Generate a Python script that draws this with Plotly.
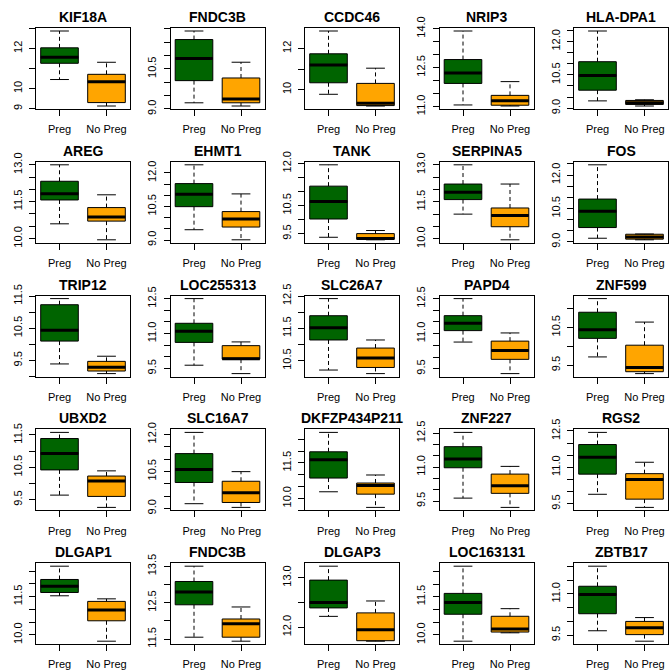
import math
import plotly.graph_objects as go

# Gene expression summaries (lower whisker, Q1, median, Q3, upper whisker) per group
genes = ["KIF18A", "FNDC3B", "CCDC46", "NRIP3", "HLA-DPA1",
         "AREG", "EHMT1", "TANK", "SERPINA5", "FOS",
         "TRIP12", "LOC255313", "SLC26A7", "PAPD4", "ZNF599",
         "UBXD2", "SLC16A7", "DKFZP434P211", "ZNF227", "RGS2",
         "DLGAP1", "FNDC3B", "DLGAP3", "LOC163131", "ZBTB17"]

groups = ["Preg", "No Preg"]

preg_lo = [10.45, 9.23, 9.77, 11.06, 9.33,
           10.60, 9.46, 9.37, 11.00, 9.16,
           9.39, 9.64, 10.21, 10.64, 9.72,
           9.64, 9.19, 10.28, 9.63, 9.89,
           11.53, 11.55, 12.22, 9.75, 9.66]
preg_q1 = [11.26, 10.06, 10.33, 11.89, 9.81,
           11.57, 10.49, 10.02, 11.59, 9.64,
           10.10, 10.62, 11.14, 11.13, 10.21,
           10.42, 10.05, 10.86, 10.97, 10.72,
           11.66, 12.44, 12.39, 10.81, 10.28]
preg_med = [11.56, 10.89, 11.20, 12.29, 10.47,
            11.82, 11.04, 10.64, 11.89, 10.37,
            10.44, 11.10, 11.52, 11.45, 10.44,
            10.93, 10.58, 11.63, 11.36, 11.42,
            11.90, 12.79, 12.50, 11.27, 10.98]
preg_q3 = [12.03, 11.60, 11.74, 12.81, 11.09,
           12.33, 11.52, 11.19, 12.22, 10.92,
           11.23, 11.44, 11.89, 11.77, 10.90,
           11.39, 11.22, 11.97, 11.90, 11.94,
           12.17, 13.08, 12.95, 11.63, 11.28]
preg_hi = [12.87, 11.92, 12.85, 13.91, 12.47,
           13.00, 12.36, 11.95, 13.00, 12.46,
           11.42, 12.50, 12.42, 12.50, 11.26,
           11.58, 12.08, 12.79, 12.53, 12.44,
           12.69, 13.50, 13.23, 12.70, 12.01]

nopreg_lo = [9.13, 9.11, 9.20, 11.02, 9.10,
             9.95, 9.01, 9.28, 9.96, 9.09,
             9.09, 9.28, 10.10, 9.29, 9.28,
             9.26, 9.04, 9.62, 9.22, 9.35,
             9.75, 11.44, 11.72, 10.08, 9.28]
nopreg_q1 = [9.30, 9.23, 9.22, 11.05, 9.17,
             10.71, 9.58, 9.30, 10.49, 9.12,
             9.17, 9.90, 10.29, 9.90, 9.33,
             9.60, 9.24, 10.18, 9.84, 9.69,
             10.55, 11.55, 11.73, 10.11, 9.52]
nopreg_med = [10.34, 9.37, 9.33, 11.22, 9.25,
              10.88, 9.94, 9.33, 10.95, 9.22,
              9.29, 9.92, 10.58, 10.28, 9.44,
              10.08, 9.63, 10.55, 10.17, 10.50,
              10.97, 11.92, 11.95, 10.23, 9.77]
nopreg_q3 = [10.71, 10.16, 10.30, 11.43, 9.35,
             11.26, 10.27, 9.50, 11.25, 9.34,
             9.47, 10.48, 10.89, 10.68, 10.03,
             10.23, 10.10, 10.65, 10.69, 10.74,
             11.31, 12.05, 12.29, 10.73, 10.00]
nopreg_hi = [11.31, 10.75, 11.04, 11.96, 9.38,
             11.78, 11.06, 9.61, 12.22, 9.35,
             9.63, 10.64, 11.14, 11.03, 10.64,
             10.39, 10.49, 10.99, 11.03, 11.21,
             11.41, 12.38, 12.53, 11.03, 10.14]

# y-axis tick spacing and the tick values that carry a printed label
tick_step = [1, 0.5, 1, 0.5, 0.5,
             0.5, 0.5, 0.5, 0.5, 0.5,
             0.5, 0.5, 0.5, 0.5, 0.5,
             0.5, 0.5, 0.5, 0.5, 0.5,
             0.5, 0.5, 0.5, 0.5, 0.5]
tick_labels = [[9, 10, 12], [9.0, 10.5], [10, 12], [11.0, 12.5, 14.0], [9.0, 10.5, 12.0],
               [10.0, 11.5, 13.0], [9.0, 10.5, 12.0], [9.5, 10.5, 12.0], [10.0, 11.5, 13.0], [9.0, 10.5, 12.0],
               [9.5, 10.5, 11.5], [9.5, 11.0, 12.5], [10.5, 11.5, 12.5], [9.5, 11.0, 12.5], [9.5, 10.5],
               [9.5, 10.5, 11.5], [9.0, 10.5, 12.0], [10.0, 11.5], [9.5, 11.0, 12.5], [9.5, 11.0, 12.5],
               [10.0, 11.5], [11.5, 12.5, 13.5], [12.0, 13.0], [10.0, 11.5], [9.5, 11.0]]

colors = ["#006400", "#FFA500"]

W, H = 670, 671
NCOL = 5
COL_PITCH, ROW_PITCH = 134.5, 133.8
PLOT_LEFT, PLOT_W = 36, 94
PLOT_TOP, PLOT_H = 28, 81
BOX_W = 0.8
STAPLE_W = 0.4
FONT = "Liberation Sans, Arial, Helvetica, sans-serif"

fig = go.Figure()
layout = dict(
    width=W, height=H,
    margin=dict(l=0, r=0, t=0, b=0, autoexpand=False),
    paper_bgcolor="white", plot_bgcolor="white",
    showlegend=False,
    font=dict(family=FONT, size=11, color="black"),
)
annotations = []

for i, gene in enumerate(genes):
    r, c = divmod(i, NCOL)
    sfx = "" if i == 0 else str(i + 1)
    xa, ya = "x" + sfx, "y" + sfx

    left = PLOT_LEFT + c * COL_PITCH
    top = PLOT_TOP + r * ROW_PITCH
    x0, x1 = left / W, (left + PLOT_W) / W
    y1, y0 = 1 - top / H, 1 - (top + PLOT_H) / H

    stats = [
        (preg_lo[i], preg_q1[i], preg_med[i], preg_q3[i], preg_hi[i]),
        (nopreg_lo[i], nopreg_q1[i], nopreg_med[i], nopreg_q3[i], nopreg_hi[i]),
    ]
    lo = min(s[0] for s in stats)
    hi = max(s[4] for s in stats)
    pad = 0.04 * (hi - lo)
    yrange = [lo - pad, hi + pad]

    for k, (lw, q1, med, q3, uw) in enumerate(stats):
        pos = k + 1
        # dashed whiskers
        fig.add_trace(go.Scatter(
            x=[pos, pos, None, pos, pos], y=[q3, uw, None, q1, lw],
            mode="lines", line=dict(color="black", width=1, dash="4px,3px"),
            xaxis=xa, yaxis=ya, hoverinfo="skip"))
        # staples
        fig.add_trace(go.Scatter(
            x=[pos - STAPLE_W / 2, pos + STAPLE_W / 2, None, pos - STAPLE_W / 2, pos + STAPLE_W / 2],
            y=[uw, uw, None, lw, lw],
            mode="lines", line=dict(color="black", width=1),
            xaxis=xa, yaxis=ya, hoverinfo="skip"))
        # box body
        fig.add_trace(go.Box(
            x=[pos], q1=[q1], median=[med], q3=[q3],
            lowerfence=[q1], upperfence=[q3],
            orientation="v", width=BOX_W, whiskerwidth=0,
            fillcolor=colors[k], line=dict(color="black", width=1),
            boxpoints=False, xaxis=xa, yaxis=ya, hoverinfo="skip"))
        # thick median bar
        fig.add_trace(go.Scatter(
            x=[pos - BOX_W / 2, pos + BOX_W / 2], y=[med, med],
            mode="lines", line=dict(color="black", width=3),
            xaxis=xa, yaxis=ya, hoverinfo="skip"))

    step = tick_step[i]
    kmin = math.ceil(yrange[0] / step - 1e-9)
    kmax = math.floor(yrange[1] / step + 1e-9)
    tvals = [round(k * step, 3) for k in range(kmin, kmax + 1)]
    fmt = "{:.0f}" if step >= 1 else "{:.1f}"
    shown = [round(v, 3) for v in tick_labels[i]]
    ttext = [fmt.format(v) if v in shown else "" for v in tvals]

    layout["xaxis" + sfx] = dict(
        domain=[x0, x1], anchor=ya, range=[0.5, 2.5],
        tickvals=[1, 2], ticktext=groups,
        showline=True, mirror=True, linecolor="black", linewidth=1,
        ticks="outside", ticklen=6, tickcolor="black", tickwidth=1,
        ticklabelstandoff=4,
        showgrid=False, zeroline=False, fixedrange=True,
        tickfont=dict(family=FONT, size=11, color="black"),
    )
    layout["yaxis" + sfx] = dict(
        domain=[y0, y1], anchor=xa, range=yrange,
        tickvals=tvals, ticktext=ttext, tickangle=-90,
        showline=True, mirror=True, linecolor="black", linewidth=1,
        ticks="outside", ticklen=6, tickcolor="black", tickwidth=1,
        ticklabelstandoff=3,
        showgrid=False, zeroline=False, fixedrange=True,
        tickfont=dict(family=FONT, size=11, color="black"),
    )
    annotations.append(dict(
        text="<b>" + gene + "</b>", xref="paper", yref="paper",
        x=(x0 + x1) / 2, y=1 - (top - 11) / H,
        xanchor="center", yanchor="middle", showarrow=False,
        font=dict(family=FONT, size=14, color="black"),
    ))

layout["annotations"] = annotations
fig.update_layout(**layout)
fig.write_html("out.html")
